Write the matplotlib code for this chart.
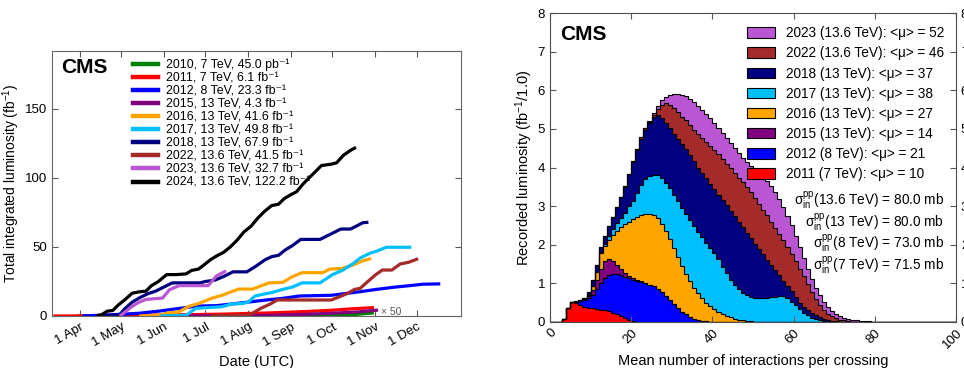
import matplotlib
matplotlib.use("Agg")
import matplotlib.pyplot as plt
import matplotlib.dates as mdates
import numpy as np
import datetime as dt
from matplotlib.patches import Patch
from matplotlib.lines import Line2D

plt.rcParams['font.family'] = ['Liberation Sans', 'DejaVu Sans']
plt.rcParams['mathtext.fontset'] = 'custom'
plt.rcParams['mathtext.rm'] = 'Liberation Sans'
plt.rcParams['mathtext.it'] = 'Liberation Sans:italic'
plt.rcParams['mathtext.bf'] = 'Liberation Sans:bold'

# ---------------- Left panel data: cumulative luminosity vs date ----------------
d2010 = ["03-30", "05-01", "06-01", "07-01", "08-01", "09-01", "09-15", "10-01", "10-15", "10-25", "10-31"]
v2010_pb = [0, 0.01, 0.03, 0.1, 1.0, 3.5, 6, 10, 18, 35, 45]   # pb^-1, drawn x50

d2011 = ["03-13", "04-15", "05-15", "06-15", "07-15", "08-15", "09-01", "09-15", "10-01", "10-15", "10-31"]
v2011 = [0, 0.1, 0.5, 0.9, 1.4, 2.2, 2.8, 3.4, 4.2, 5.2, 6.1]

d2012 = ["04-03", "04-30", "05-14", "05-29", "06-12", "06-25", "07-09", "07-20", "08-04", "08-14", "08-26",
         "09-07", "09-30", "10-08", "10-21", "11-02", "11-14", "11-26", "12-05", "12-18"]
v2012 = [0, 1.2, 2, 3.6, 5.5, 7.2, 7.5, 8.7, 10.4, 11.6, 12.8, 14.5, 15, 16, 17.6, 19.3, 20.8, 22, 23, 23.3]

d2015 = ["06-03", "07-01", "08-01", "08-20", "09-10", "10-01", "10-20", "11-03"]
v2015 = [0, 0.1, 0.3, 0.6, 1.2, 2.0, 3.0, 4.3]

d2016 = ["05-14", "05-29", "06-03", "06-12", "06-19", "06-26", "07-06", "07-13", "07-20", "07-25", "08-04",
         "08-12", "08-16", "08-26", "09-02", "09-09", "09-24", "09-29", "10-08", "10-16", "10-23", "10-29"]
v2016 = [0, 0.5, 2, 3, 7, 9, 13, 15, 17.6, 19.5, 19.5, 22.5, 24, 24.4, 28.5, 31.4, 31.4, 34, 34.5, 37, 40, 41.6]

d2017 = ["05-29", "06-17", "06-24", "07-01", "07-13", "07-20", "07-27", "08-01", "08-06", "08-13", "08-18",
         "08-25", "09-02", "09-09", "09-22", "10-01", "10-08", "10-16", "10-21", "10-28", "11-02", "11-09", "11-27"]
v2017 = [0, 0.5, 5.5, 6, 6.7, 8.7, 9, 10, 14.5, 16, 17, 19, 21, 24, 24, 30, 33, 38, 42, 45.4, 47, 49.8, 49.8]

d2018 = ["04-17", "04-30", "05-04", "05-09", "05-14", "05-20", "05-26", "06-01", "06-07", "06-27", "07-01",
         "07-08", "07-15", "07-21", "07-31", "08-06", "08-13", "08-18", "08-23", "08-28", "09-02", "09-08",
         "09-22", "09-26", "10-01", "10-07", "10-14", "10-18", "10-23", "10-27"]
v2018 = [0, 1, 5.5, 10, 13, 16, 18, 21, 24, 24, 25, 26, 29, 32, 32, 35.7, 40.6, 43, 44, 48, 51, 55.5,
         55.5, 57.5, 60, 63, 63, 65, 67.6, 67.9]

d2022 = ["07-05", "08-02", "08-10", "08-17", "08-22", "09-01", "09-30", "10-05", "10-12", "10-17", "10-21",
         "10-27", "11-01", "11-06", "11-13", "11-19", "11-25", "12-02"]
v2022 = [0, 0.7, 5.5, 8.7, 11.6, 11.6, 11.6, 13.5, 16.4, 19.3, 20, 25.4, 29.7, 33.3, 33.3, 37.7, 38.9, 41.5]

d2023 = ["04-30", "05-04", "05-09", "05-14", "05-19", "05-31", "06-05", "06-12", "07-03", "07-09", "07-16"]
v2023 = [0, 3, 7, 10, 12, 13, 19, 22, 22, 29, 32.7]

d2024 = ["04-13", "04-17", "04-21", "04-25", "04-29", "05-04", "05-09", "05-14", "05-19", "05-23", "05-28",
         "06-03", "06-10", "06-17", "06-21", "06-26", "06-30", "07-05", "07-10", "07-14", "07-19", "07-24",
         "07-29", "08-03", "08-08", "08-13", "08-18", "08-23", "08-27", "09-01", "09-05", "09-10", "09-15",
         "09-20", "09-23", "09-30", "10-04", "10-09", "10-14", "10-18"]
v2024 = [0, 1, 3.5, 4, 8, 12, 16.5, 17.5, 18, 22, 25, 30, 30, 30.5, 33, 34, 37, 41, 44, 46, 50, 55,
         61, 65, 71, 76, 80, 81, 85, 88, 90, 96, 101, 106, 109, 110, 111, 116.5, 120, 122.2]

left_labels = ["2010, 7 TeV, 45.0 pb⁻¹", "2011, 7 TeV, 6.1 fb⁻¹", "2012, 8 TeV, 23.3 fb⁻¹",
               "2015, 13 TeV, 4.3 fb⁻¹", "2016, 13 TeV, 41.6 fb⁻¹", "2017, 13 TeV, 49.8 fb⁻¹",
               "2018, 13 TeV, 67.9 fb⁻¹", "2022, 13.6 TeV, 41.5 fb⁻¹", "2023, 13.6 TeV, 32.7 fb⁻¹",
               "2024, 13.6 TeV, 122.2 fb⁻¹"]
left_colors = ["#008000", "#FF0000", "#0000FF", "#800080", "#FFA500", "#00BFFF", "#000080", "#A52A2A",
               "#BA55D3", "#000000"]
month_ticks = ["04-01", "05-01", "06-01", "07-01", "08-01", "09-01", "10-01", "11-01", "12-01"]

# ---------------- Right panel data: pileup distributions (fb^-1 per bin of 1.0) ----------------
start2011 = 3
p2011 = [0.07, 0.35, 0.52, 0.48, 0.44, 0.40, 0.37, 0.35, 0.33, 0.31, 0.31, 0.28, 0.24, 0.21, 0.16, 0.10,
         0.05, 0.02, 0.01]
start2012 = 6
p2012 = [0.04, 0.11, 0.18, 0.25, 0.35, 0.52, 0.71, 0.84, 0.94, 1.01, 1.04, 1.06, 1.07, 1.08, 1.08, 1.06,
         1.04, 1.01, 0.97, 0.92, 0.86, 0.77, 0.67, 0.56, 0.46, 0.36, 0.27, 0.20, 0.14, 0.09, 0.06, 0.03,
         0.02, 0.01]
start2015 = 8
p2015 = [0.02, 0.06, 0.12, 0.23, 0.36, 0.43, 0.40, 0.33, 0.23, 0.16, 0.11, 0.07, 0.05, 0.03, 0.02, 0.01]
start2016 = 9
p2016 = [0.02, 0.10, 0.22, 0.40, 0.40, 0.50, 0.67, 0.88, 1.07, 1.25, 1.40, 1.51, 1.62, 1.71, 1.78, 1.83,
         1.84, 1.82, 1.78, 1.69, 1.59, 1.46, 1.32, 1.18, 1.04, 0.91, 0.79, 0.68, 0.58, 0.48, 0.40, 0.34,
         0.27, 0.21, 0.16, 0.12, 0.09, 0.06, 0.04, 0.03, 0.02, 0.01]
start2017 = 12
p2017 = [0.02, 0.05, 0.10, 0.15, 0.20, 0.25, 0.30, 0.40, 0.48, 0.62, 0.78, 0.90, 0.98, 1.05, 1.12, 1.18,
         1.25, 1.32, 1.38, 1.44, 1.50, 1.55, 1.58, 1.60, 1.60, 1.58, 1.55, 1.50, 1.44, 1.35, 1.22, 1.10,
         0.98, 0.88, 0.80, 0.72, 0.67, 0.63, 0.62, 0.61, 0.61, 0.62, 0.64, 0.66, 0.68, 0.67, 0.62, 0.53,
         0.43, 0.33, 0.24, 0.17, 0.11, 0.07, 0.04, 0.02, 0.01]
start2018 = 6
p2018 = [0.03, 0.03, 0.02, 0.08, 0.18, 0.17, 0.15, 0.19, 0.26, 0.32, 0.42, 0.54, 0.67, 0.82, 1.01, 1.11,
         1.20, 1.28, 1.37, 1.49, 1.55, 1.55, 1.55, 1.55, 1.58, 1.63, 1.67, 1.69, 1.70, 1.69, 1.66, 1.67,
         1.67, 1.67, 1.66, 1.68, 1.73, 1.76, 1.78, 1.77, 1.74, 1.69, 1.61, 1.52, 1.40, 1.28, 1.14, 0.99,
         0.84, 0.69, 0.53, 0.40, 0.31, 0.26, 0.21, 0.17, 0.15, 0.13, 0.12, 0.10, 0.08, 0.06, 0.04, 0.03,
         0.02, 0.01]
start2022 = 18
p2022 = [0.02, 0.02, 0.03, 0.03, 0.03, 0.03, 0.03, 0.06, 0.17, 0.34, 0.50, 0.60, 0.66, 0.68, 0.70, 0.74,
         0.77, 0.81, 0.86, 0.90, 0.94, 0.98, 1.02, 1.04, 1.06, 1.08, 1.10, 1.12, 1.14, 1.17, 1.19, 1.19,
         1.18, 1.17, 1.16, 1.15, 1.12, 1.09, 1.07, 1.05, 1.01, 0.97, 0.94, 0.88, 0.79, 0.68, 0.55, 0.43,
         0.33, 0.24, 0.17, 0.12, 0.08, 0.05, 0.04, 0.02, 0.01]
start2023 = 23
p2023 = [0.01, 0.02, 0.04, 0.08, 0.12, 0.17, 0.26, 0.36, 0.47, 0.56, 0.62, 0.68, 0.72, 0.74, 0.74, 0.73,
         0.71, 0.68, 0.67, 0.67, 0.66, 0.65, 0.64, 0.63, 0.62, 0.63, 0.68, 0.75, 0.82, 0.87, 0.90, 0.92,
         0.92, 0.90, 0.86, 0.81, 0.74, 0.64, 0.55, 0.47, 0.40, 0.34, 0.29, 0.24, 0.20, 0.17, 0.14, 0.11,
         0.09, 0.07, 0.06, 0.05, 0.04, 0.03, 0.02, 0.015, 0.01, 0.01, 0.005, 0.005]

right_series = [(p2011, start2011, "#FF0000", "2011 (7 TeV): <μ> = 10"),
                (p2012, start2012, "#0000FF", "2012 (8 TeV): <μ> = 21"),
                (p2015, start2015, "#800080", "2015 (13 TeV): <μ> = 14"),
                (p2016, start2016, "#FFA500", "2016 (13 TeV): <μ> = 27"),
                (p2017, start2017, "#00BFFF", "2017 (13 TeV): <μ> = 38"),
                (p2018, start2018, "#000080", "2018 (13 TeV): <μ> = 37"),
                (p2022, start2022, "#A52A2A", "2022 (13.6 TeV): <μ> = 46"),
                (p2023, start2023, "#BA55D3", "2023 (13.6 TeV): <μ> = 52")]
xsec_labels = [r"$\mathrm{\sigma}^{\mathrm{pp}}_{\mathrm{in}}$(13.6 TeV) = 80.0 mb",
               r"$\mathrm{\sigma}^{\mathrm{pp}}_{\mathrm{in}}$(13 TeV) = 80.0 mb",
               r"$\mathrm{\sigma}^{\mathrm{pp}}_{\mathrm{in}}$(8 TeV) = 73.0 mb",
               r"$\mathrm{\sigma}^{\mathrm{pp}}_{\mathrm{in}}$(7 TeV) = 71.5 mb"]

# ---------------- Figure ----------------
fig = plt.figure(figsize=(9.64, 3.68), dpi=100)
axL = fig.add_axes([52 / 964, 1 - 316 / 368, 409 / 964, 265 / 368])
axR = fig.add_axes([550 / 964, 1 - 322 / 368, 406 / 964, 309 / 368])

def to_dates(md):
    return [dt.datetime(2021, int(s[:2]), int(s[3:])) for s in md]

left_data = [(d2010, [v * 50 / 1000.0 for v in v2010_pb]), (d2011, v2011), (d2012, v2012), (d2015, v2015),
             (d2016, v2016), (d2017, v2017), (d2018, v2018), (d2022, v2022), (d2023, v2023), (d2024, v2024)]
handles = []
for (dd, vv), col, lab in zip(left_data, left_colors, left_labels):
    axL.plot(to_dates(dd), vv, color=col, lw=2.3, solid_capstyle='butt', solid_joinstyle='round')
    handles.append(Line2D([], [], color=col, lw=3.2, label=lab))

axL.set_xlim(dt.datetime(2021, 3, 12), dt.datetime(2022, 1, 2))
axL.set_ylim(0, 192)
axL.set_yticks([0, 50, 100, 150])
axL.set_xticks(to_dates(month_ticks))
axL.xaxis.set_major_formatter(mdates.DateFormatter('1 %b'))
axL.tick_params(direction='in', top=True, right=True, labelsize=9.5, length=4, color='0.35')
for lab in axL.get_xticklabels():
    lab.set_rotation(30)
    lab.set_ha('right')
    lab.set_rotation_mode('anchor')
for sp in axL.spines.values():
    sp.set_color('0.4')
axL.set_xlabel("Date (UTC)", fontsize=10.5)
axL.set_ylabel("Total integrated luminosity (fb$^{-1}$)", fontsize=10, labelpad=2)
axL.text(0.022, 0.936, "CMS", transform=axL.transAxes, fontsize=15, fontweight='bold', va='center', ha='left')
axL.text(dt.datetime(2021, 11, 5), 2.8, "× 50", fontsize=7.5, color='0.35', va='center', ha='left')
axL.legend(handles=handles, loc='upper left', bbox_to_anchor=(0.198, 0.972), frameon=False, fontsize=8.9,
           handlelength=2.0, handletextpad=0.65, labelspacing=0.09, borderaxespad=0, borderpad=0)

# Right: stacked step histogram
edges = np.arange(0, 101)
base = np.zeros(100)
tops = []
for vals, st, col, lab in right_series:
    arr = np.zeros(100)
    arr[st:st + len(vals)] = vals
    top = base + arr
    axR.stairs(top, edges, baseline=base.copy(), fill=True, color=col, lw=0)
    tops.append(top.copy())
    base = top
for top in tops:
    axR.stairs(top, edges, baseline=None, color='black', lw=0.8)

axR.set_xlim(0, 100)
axR.set_ylim(0, 8)
axR.set_xticks([0, 20, 40, 60, 80, 100])
axR.set_yticks(range(0, 9))
axR.tick_params(direction='in', top=True, right=True, labelright=True, labelsize=9.5, length=4, color='0.35')
for lab in axR.get_xticklabels():
    lab.set_rotation(45)
    lab.set_ha('right')
    lab.set_rotation_mode('anchor')
for sp in axR.spines.values():
    sp.set_color('0.3')
axR.set_xlabel("Mean number of interactions per crossing", fontsize=10.5, labelpad=2)
axR.set_ylabel("Recorded luminosity (fb$^{-1}$/1.0)", fontsize=10.5, labelpad=2)
axR.text(0.025, 0.932, "CMS", transform=axR.transAxes, fontsize=15, fontweight='bold', va='center', ha='left')

rhandles = [Patch(facecolor=col, edgecolor='black', lw=0.8, label=lab) for vals, st, col, lab in right_series][::-1]
axR.legend(handles=rhandles, loc='upper right', bbox_to_anchor=(0.972, 0.957), frameon=False, fontsize=9.8,
           handlelength=2.1, handleheight=0.8, handletextpad=0.8, labelspacing=0.45, borderaxespad=0, borderpad=0)
for i, t in enumerate(xsec_labels):
    axR.text(0.970, [0.395, 0.324, 0.256, 0.184][i], t, transform=axR.transAxes, fontsize=9.8,
             ha='right', va='center')

fig.savefig("out.png", dpi=100)
